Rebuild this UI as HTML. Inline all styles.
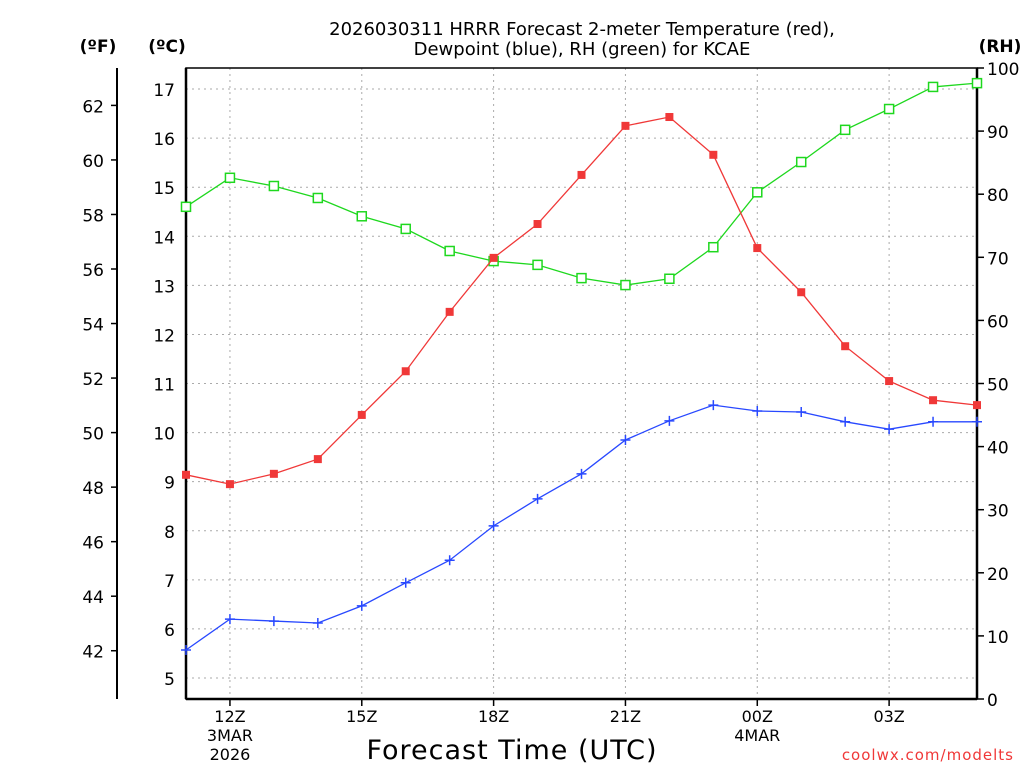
<!DOCTYPE html>
<html><head><meta charset="utf-8"><style>
body{margin:0;background:#fff;}
svg{display:block;font-family:"DejaVu Sans","Liberation Sans",sans-serif;}
</style></head><body>
<svg id="chart" width="1024" height="768" viewBox="0 0 1024 768" xmlns="http://www.w3.org/2000/svg"></svg>
<script>
const hours = [11,12,13,14,15,16,17,18,19,20,21,22,23,24,25,26,27,28,29];
const tempC = [9.14,8.95,9.16,9.46,10.36,11.25,12.46,13.56,14.25,15.25,16.25,16.43,15.66,13.76,12.86,11.76,11.05,10.66,10.56];
const dewC = [5.57,6.20,6.16,6.12,6.47,6.94,7.40,8.10,8.65,9.16,9.85,10.24,10.56,10.44,10.42,10.22,10.07,10.22,10.22];
const rh = [78.0,82.6,81.3,79.4,76.5,74.5,71.0,69.4,68.8,66.7,65.6,66.6,71.6,80.3,85.1,90.2,93.5,97.0,97.6];
const cTicks = [5,6,7,8,9,10,11,12,13,14,15,16,17];
const fTicks = [42,44,46,48,50,52,54,56,58,60,62];
const rhTicks = [0,10,20,30,40,50,60,70,80,90,100];
const xTickHours = [12,15,18,21,24,27];
const xTickLabels = ["12Z","15Z","18Z","21Z","00Z","03Z"];

const NS="http://www.w3.org/2000/svg";
const svg=document.getElementById('chart');
const L=186,R=977,T=68,B=699;
const xS=h=>L+(h-11)*(R-L)/18;
const cS=c=>678-(c-5)*49.08;
const fS=f=>cS((f-32)*5/9);
const rS=r=>B-r*(B-T)/100;
function el(tag,a,txt){const e=document.createElementNS(NS,tag);for(const k in a)e.setAttribute(k,a[k]);if(txt!==undefined)e.textContent=txt;svg.appendChild(e);return e;}

// grid
cTicks.forEach(c=>{const g=el('line',{x1:L,x2:R,y1:cS(c),y2:cS(c),stroke:'#aaa','stroke-dasharray':'2,4','stroke-width':1});

});
xTickHours.forEach(h=>{const g=el('line',{x1:xS(h),x2:xS(h),y1:T,y2:B,stroke:'#aaa','stroke-dasharray':'2,4','stroke-width':1});

});

// frame
let fr=el('rect',{x:L,y:T,width:R-L,height:B-T,fill:'none',stroke:'#000','stroke-width':1.5});


el('line',{x1:L,x2:L,y1:T,y2:B,stroke:'#000','stroke-width':2.5});
el('line',{x1:L,x2:R,y1:B,y2:B,stroke:'#000','stroke-width':2.5});
el('line',{x1:R,x2:R,y1:T,y2:B,stroke:'#000','stroke-width':2.5});

// C axis labels
cTicks.forEach(c=>{const t=el('text',{x:175,y:cS(c)+7,'text-anchor':'end','font-size':17},String(c));

});
// F axis
el('line',{x1:117,x2:117,y1:T,y2:B,stroke:'#000','stroke-width':2});
fTicks.forEach(f=>{const y=fS(f);el('line',{x1:111,x2:117,y1:y,y2:y,stroke:'#000','stroke-width':1.5});
const t=el('text',{x:104,y:y+7,'text-anchor':'end','font-size':17},String(f));

});
// RH axis
rhTicks.forEach(r=>{const y=rS(r);el('line',{x1:R,x2:R+7,y1:y,y2:y,stroke:'#000','stroke-width':1.5});
const t=el('text',{x:987,y:y+7,'font-size':17},String(r));

});
// X ticks
xTickHours.forEach((h,i)=>{el('line',{x1:xS(h),x2:xS(h),y1:B,y2:B+7,stroke:'#000','stroke-width':1.5});
const t=el('text',{x:xS(h),y:722,'text-anchor':'middle','font-size':16},xTickLabels[i]);

});
el('text',{x:xS(12),y:741,'text-anchor':'middle','font-size':16},'3MAR');
el('text',{x:xS(12),y:760,'text-anchor':'middle','font-size':16},'2026');
el('text',{x:xS(24),y:741,'text-anchor':'middle','font-size':16},'4MAR');

// series
function series(vals,scale,color,name,marker){
  const pts=vals.map((v,i)=>[xS(hours[i]),scale(v)]);
  const p=el('polyline',{points:pts.map(p=>p.join(',')).join(' '),fill:'none',stroke:color,'stroke-width':1.3});
  
  
  pts.forEach(([x,y])=>{let m;
    if(marker==='fill')m=el('rect',{x:x-4,y:y-4,width:8,height:8,fill:color});
    else if(marker==='open')m=el('rect',{x:x-4.5,y:y-4.5,width:9,height:9,fill:'#fff',stroke:color,'stroke-width':1.5});
    else m=el('path',{d:`M${x-5},${y}H${x+5}M${x},${y-5}V${y+5}`,stroke:color,'stroke-width':1.5});
    
    });
}
series(rh,rS,'#1ed81e','rh','open');
series(tempC,cS,'#f03838','temperature','fill');
series(dewC,cS,'#2848ff','dewpoint','plus');

// titles
const tt=[['2026030311 HRRR Forecast 2-meter Temperature (red),',35],['Dewpoint (blue), RH (green) for KCAE',55]];
tt.forEach(([s,y])=>{const t=el('text',{x:582,y:y,'text-anchor':'middle','font-size':18},s);

});
el('text',{x:98,y:52,'text-anchor':'middle','font-size':17,'font-weight':'bold'},'(ºF)');
el('text',{x:167,y:52,'text-anchor':'middle','font-size':17,'font-weight':'bold'},'(ºC)');
el('text',{x:1000,y:52,'text-anchor':'middle','font-size':17,'font-weight':'bold'},'(RH)');
let xt=el('text',{x:512,y:759,'text-anchor':'middle','font-size':27,'letter-spacing':'1'},'Forecast Time (UTC)');


el('text',{x:1014,y:760,'text-anchor':'end','font-size':15,fill:'#f03838','letter-spacing':'1'},'coolwx.com/modelts');
</script>
</body></html>
